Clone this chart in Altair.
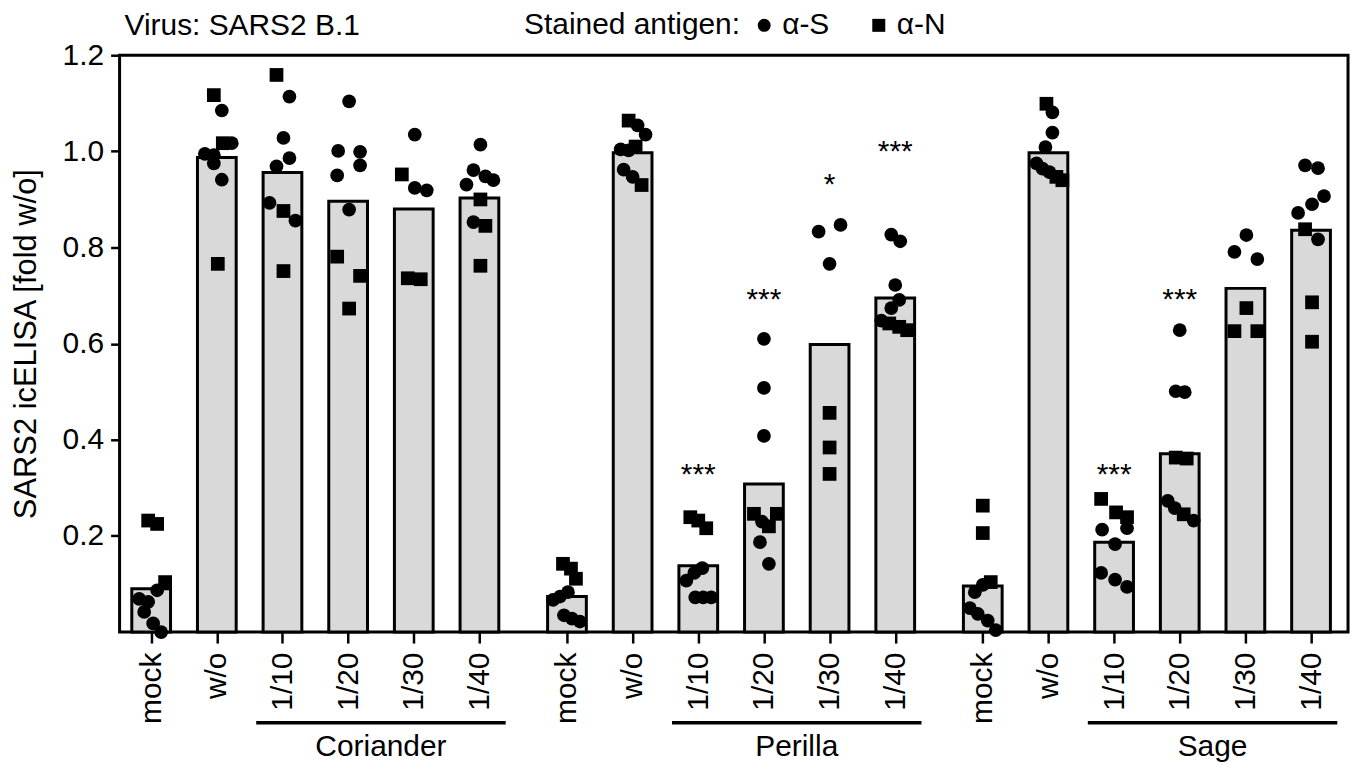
import altair as alt
import pandas as pd

# ---------------- data ----------------
groups = ["Coriander", "Perilla", "Sage"]
conditions = ["mock", "w/o", "1/10", "1/20", "1/30", "1/40"]

bar_means = [
    [0.090, 0.987, 0.956, 0.896, 0.880, 0.903],
    [0.074, 0.997, 0.138, 0.308, 0.598, 0.695],
    [0.096, 0.997, 0.187, 0.371, 0.715, 0.836],
]

# alpha-S staining (circles)
s_values = [
    [[0.087, 0.069, 0.063, 0.042, 0.018, 0.000],
     [1.085, 1.017, 0.995, 0.992, 0.975, 0.941],
     [1.114, 1.028, 0.986, 0.969, 0.893, 0.856],
     [1.104, 1.001, 0.999, 0.971, 0.950, 0.879],
     [1.035, 0.924, 0.919],
     [1.014, 0.961, 0.948, 0.940, 0.931, 0.853]],
    [[0.083, 0.074, 0.067, 0.035, 0.028, 0.022],
     [1.054, 1.035, 1.004, 1.002, 0.962, 0.947],
     [0.133, 0.123, 0.107, 0.072, 0.072, 0.072],
     [0.610, 0.508, 0.408, 0.230, 0.187, 0.142],
     [0.847, 0.833, 0.766],
     [0.827, 0.813, 0.722, 0.691, 0.674, 0.648]],
    [[0.098, 0.083, 0.050, 0.038, 0.024, 0.004],
     [1.081, 1.039, 1.009, 0.975, 0.964, 0.957],
     [0.216, 0.213, 0.183, 0.123, 0.109, 0.094],
     [0.628, 0.501, 0.499, 0.273, 0.258, 0.232],
     [0.826, 0.791, 0.776],
     [0.971, 0.965, 0.907, 0.890, 0.872, 0.817]],
]
# horizontal scatter of the circles (pixels from the bar centre)
s_jitter = [
    [[6, -12, -3, -7, 2, 10],
     [5, 15, -12, -3, -3, 5],
     [7, 1, 7, -6, -13, 13],
     [1, -10, 12, 12, -11, 1],
     [1, 1, 13],
     [1, -6, 6, 14, -13, -6]],
    [[1, -7, -14, -3, 5, 13],
     [5, 13, -12, -4, -9, 0],
     [4, -4, -12, -3, 5, 13],
     [0, 0, 0, -2, -4, 5],
     [11, -11, 0],
     [-4, 5, 0, 4, -4, -14]],
    [[0, -8, -13, -5, 5, 13],
     [4, 4, -3, -12, -6, 1],
     [13, -12, 1, -13, 1, 13],
     [0, -4, 5, -12, -5, 14],
     [1, -11, 12],
     [-6, 7, 13, 1, -13, 7]],
]

# alpha-N staining (squares)
n_values = [
    [[0.232, 0.225, 0.104],
     [1.117, 1.017, 0.766],
     [1.159, 0.876, 0.751],
     [0.781, 0.741, 0.673],
     [0.952, 0.736, 0.734],
     [0.900, 0.845, 0.762]],
    [[0.142, 0.132, 0.111],
     [1.064, 1.010, 0.930],
     [0.239, 0.232, 0.216],
     [0.246, 0.246, 0.220],
     [0.456, 0.384, 0.329],
     [0.642, 0.635, 0.628]],
    [[0.263, 0.206, 0.104],
     [1.099, 0.947, 0.940],
     [0.277, 0.249, 0.239],
     [0.363, 0.361, 0.245],
     [0.674, 0.626, 0.626],
     [0.838, 0.686, 0.604]],
]
n_jitter = [
    [[-3, 6, 14], [-3, 6, 1], [-6, 1, 1], [-11, 12, 1], [-12, -6, 7], [1, 6, 1]],
    [[-4, 4, 9], [-4, 3, 9], [-8, 0, 8], [-10, 13, 5], [0, 0, 0], [-6, 4, 12]],
    [[0, 0, 8], [-2, 8, 14], [-13, 2, 13], [-4, 7, 4], [1, -11, 12], [-6, 1, 1]],
]

star_groups = ["Perilla", "Perilla", "Perilla", "Perilla", "Sage", "Sage"]
star_conds = ["1/10", "1/20", "1/30", "1/40", "1/10", "1/20"]
star_text = ["***", "***", "*", "***", "***", "***"]
star_y = [0.308, 0.672, 0.912, 0.980, 0.308, 0.672]

# ---------------- layout helpers ----------------
GAP = 1.0 / 3.0          # extra space between the three groups
STEP = 6 + GAP
UNIT_PX = 65.9           # pixels per category slot
HALF = 0.295             # half bar width (slots)
FONT = 30


def pos(g, j):
    return g * STEP + j


bar_rows, pt_rows = [], []
for g, grp in enumerate(groups):
    for j, cond in enumerate(conditions):
        p = pos(g, j)
        bar_rows.append({"group": grp, "cond": cond, "pos": p,
                         "lo": p - HALF, "hi": p + HALF,
                         "mean": bar_means[g][j]})
        for v, dx in zip(s_values[g][j], s_jitter[g][j]):
            pt_rows.append({"group": grp, "cond": cond, "antigen": "α-S",
                            "value": v, "px": p + dx / UNIT_PX})
        for v, dx in zip(n_values[g][j], n_jitter[g][j]):
            pt_rows.append({"group": grp, "cond": cond, "antigen": "α-N",
                            "value": v, "px": p + dx / UNIT_PX})

bars_df = pd.DataFrame(bar_rows)
pts_df = pd.DataFrame(pt_rows)

star_df = pd.DataFrame({
    "pos": [pos(groups.index(g), conditions.index(c)) for g, c in zip(star_groups, star_conds)],
    "y": star_y,
    "label": star_text,
})

grp_df = pd.DataFrame({
    "group": groups,
    "center": [pos(g, 3.5) for g in range(3)],
    "x1": [pos(g, 2) - 0.40 for g in range(3)],
    "x2": [pos(g, 5) + 0.40 for g in range(3)],
})

title_df = pd.DataFrame({"t": ["Virus: SARS2 B.1"]})

tick_vals = [pos(g, j) for g in range(3) for j in range(6)]
label_expr = ("['mock','w/o','1/10','1/20','1/30','1/40']"
              "[round(datum.value - floor(datum.value/(19/3) + 0.01)*(19/3))]")

W, H = 1233, 579
xscale = alt.Scale(domain=[-0.481, 18.23], nice=False, zero=False)
yscale = alt.Scale(domain=[0, 1.2], nice=False, zero=True)

xaxis = alt.Axis(values=tick_vals, labelExpr=label_expr, title=None,
                 labelAngle=-90, labelFontSize=FONT, labelColor="black",
                 tickSize=11, tickWidth=2.5, tickColor="black",
                 labelPadding=9, labelOverlap=False, labelFlush=False,
                 labelBound=False, domain=False, grid=False)
yaxis = alt.Axis(values=[0.2, 0.4, 0.6, 0.8, 1.0, 1.2], format=".1f",
                 title="SARS2 icELISA [fold w/o]", titleFontSize=31,
                 titleFontWeight="normal", titleColor="black",
                 titleX=-93, titleY=H / 2, titleAngle=-90,
                 titleAlign="center", titleBaseline="middle",
                 labelFontSize=FONT, labelColor="black", labelPadding=7,
                 tickSize=9, tickWidth=2.5, tickColor="black",
                 domain=False, grid=False)

bars = alt.Chart(bars_df).mark_bar(
    fill="#d9d9d9", stroke="black", strokeWidth=3, opacity=1
).encode(
    x=alt.X("lo:Q", scale=xscale, axis=xaxis),
    x2="hi:Q",
    y=alt.Y("mean:Q", scale=yscale, axis=yaxis),
    y2=alt.datum(0),
)

points = alt.Chart(pts_df).mark_point(
    filled=True, color="black", opacity=1, size=190
).encode(
    x=alt.X("px:Q", scale=xscale),
    y=alt.Y("value:Q", scale=yscale),
    shape=alt.Shape(
        "antigen:N",
        scale=alt.Scale(domain=["α-S", "α-N"], range=["circle", "square"]),
        legend=alt.Legend(
            title="Stained antigen:", orient="none", legendX=406, legendY=-45,
            direction="horizontal", titleOrient="left", titleFontSize=FONT,
            titleFontWeight="normal", titleColor="black", titleLimit=1000,
            titleBaseline="middle", titlePadding=9,
            labelFontSize=FONT, labelColor="black", labelOffset=3,
            labelLimit=300,
            symbolSize=170, symbolFillColor="black", symbolStrokeColor="black",
            symbolStrokeWidth=0, columnPadding=34,
        ),
    ),
)

stars = alt.Chart(star_df).mark_text(
    fontSize=30, baseline="alphabetic", align="center", color="black"
).encode(
    x=alt.X("pos:Q", scale=xscale),
    y=alt.Y("y:Q", scale=yscale),
    text="label:N",
)

rules = alt.Chart(grp_df).mark_rule(strokeWidth=3.5, color="black").encode(
    x=alt.X("x1:Q", scale=xscale),
    x2="x2:Q",
    y=alt.value(670),
)

glabels = alt.Chart(grp_df).mark_text(
    fontSize=FONT, baseline="alphabetic", align="center", color="black"
).encode(
    x=alt.X("center:Q", scale=xscale),
    y=alt.value(703),
    text="group:N",
)

vtitle = alt.Chart(title_df).mark_text(
    fontSize=FONT, baseline="middle", align="left", color="black"
).encode(
    x=alt.value(5),
    y=alt.value(-29),
    text="t:N",
)

chart = alt.layer(bars, points, stars, rules, glabels, vtitle).properties(
    width=W, height=H,
    autosize=alt.AutoSizeParams(type="none"),
    padding={"left": 112, "top": 46, "right": 8, "bottom": 130},
).configure(
    font="Liberation Sans",
).configure_view(
    stroke="black", strokeWidth=3,
)

chart.save("out.html", embed_options={"renderer": "svg", "actions": False})
